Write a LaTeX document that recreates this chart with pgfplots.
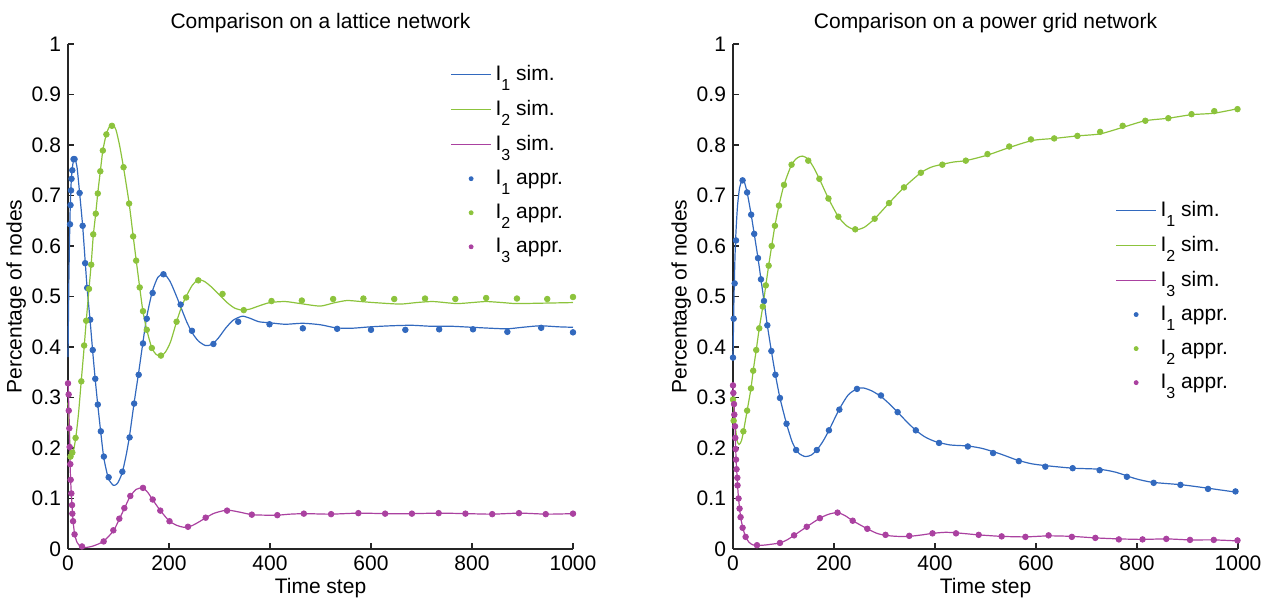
\documentclass[border=0pt]{standalone}
\usepackage{fontspec}
\setmainfont{Liberation Sans}
\usepackage{pgfplots}
\pgfplotsset{compat=1.18}

\definecolor{cI}{RGB}{50,105,190}
\definecolor{cII}{RGB}{140,195,60}
\definecolor{cIII}{RGB}{170,65,160}

\newcommand{\Is}[1]{I\raisebox{-5pt}{\footnotesize #1}}

\pgfplotsset{
  panel/.style={
    scale only axis, width=252.5pt, height=252.5pt,
    xmin=0, xmax=1000, ymin=0, ymax=1,
    xtick={0,200,400,600,800,1000},
    ytick={0,0.1,0.2,0.3,0.4,0.5,0.6,0.7,0.8,0.9,1},
    axis x line=bottom, axis y line=left,
    axis line style={-, black!85, line width=0.6pt},
    tick align=inside, major tick length=3pt,
    tick style={black!85, line width=0.6pt},
    /pgf/number format/assume math mode=true,
    /pgf/number format/1000 sep={},
    tick label style={font=\fontsize{10.5}{12}\selectfont},
    label style={font=\fontsize{10.5}{12}\selectfont},
    title style={font=\fontsize{10.5}{12}\selectfont, yshift=-4pt},
    xlabel={Time step}, ylabel={Percentage of nodes},
    xlabel style={yshift=3pt}, ylabel style={yshift=-4pt},
    legend cell align=left,
    legend style={draw=none, fill=none, font=\fontsize{10.5}{12}\selectfont, row sep=4.3pt},
    clip=false,
  },
  sim/.style={line width=0.6pt, smooth, tension=0.4, no marks,
    legend image code/.code={\draw[##1] plot coordinates {(0cm,0cm) (0.7cm,0cm)};}},
  appr/.style={only marks, mark=*, mark size=1.4pt,
    legend image code/.code={\draw[##1, mark size=1pt] plot coordinates {(0.35cm,0cm)};}},
}

\begin{document}
\begin{tikzpicture}
% ---------------- lattice ----------------
\begin{axis}[panel, name=lat, title={Comparison on a lattice network},
  legend style={at={(0.745,0.974)}, anchor=north west}]
\addplot[sim, cI] coordinates {(0,0.38) (2,0.55) (4,0.66) (6,0.72) (8,0.75) (11,0.77) (14,0.772) (18,0.755) (23,0.705) (29,0.64) (34,0.57) (38,0.515) (44,0.45) (49,0.39) (54,0.335) (59,0.285) (65,0.23) (71,0.18) (80,0.14) (90,0.126) (98,0.13) (107,0.15) (115,0.185) (122,0.225) (131,0.29) (140,0.35) (148.5,0.41) (156,0.46) (167,0.51) (178,0.538) (190,0.545) (202,0.53) (213,0.505) (223,0.48) (235,0.45) (246,0.428) (258,0.412) (272,0.403) (285,0.405) (298,0.418) (312,0.437) (327,0.453) (345,0.461) (360,0.457) (378,0.450) (399,0.448) (430,0.445) (465,0.447) (500,0.444) (530,0.438) (560,0.437) (600,0.440) (640,0.442) (680,0.443) (720,0.441) (760,0.441) (800,0.439) (840,0.437) (870,0.436) (900,0.439) (935,0.442) (970,0.440) (1000,0.439)};
\addlegendentry{\Is{1} sim.}
\addplot[sim, cII] coordinates {(0,0.29) (3,0.22) (6,0.185) (9,0.185) (12,0.2) (16,0.225) (21,0.27) (26,0.33) (32,0.40) (36,0.45) (41.6,0.515) (46,0.565) (50,0.62) (55,0.665) (59,0.705) (64,0.748) (69,0.789) (76,0.822) (83,0.838) (89,0.84) (95,0.83) (102,0.80) (110,0.755) (121,0.685) (129,0.62) (135,0.572) (142,0.518) (148.5,0.47) (156,0.434) (166,0.398) (175,0.385) (184,0.382) (193,0.39) (203,0.41) (215,0.45) (225,0.48) (234,0.50) (246,0.522) (258,0.533) (270,0.53) (285,0.518) (300,0.503) (315,0.488) (330,0.477) (345,0.473) (360,0.475) (380,0.482) (400,0.488) (430,0.49) (460,0.486) (499,0.481) (525,0.487) (552,0.492) (580,0.490) (605,0.488) (657,0.485) (690,0.488) (723,0.490) (769,0.486) (800,0.488) (828,0.490) (860,0.488) (888,0.486) (950,0.487) (1000,0.488)};
\addlegendentry{\Is{2} sim.}
\addplot[sim, cIII] coordinates {(0,0.33) (2,0.27) (4,0.17) (6,0.12) (8,0.087) (10,0.057) (13,0.03) (18,0.013) (25,0.005) (35,0.003) (50,0.006) (70,0.015) (90,0.036) (102,0.06) (112,0.081) (123,0.104) (135,0.118) (148,0.121) (158,0.112) (168,0.097) (183,0.076) (200,0.056) (215,0.047) (230,0.043) (245,0.046) (260,0.054) (273,0.062) (290,0.071) (315,0.077) (340,0.073) (364,0.068) (390,0.067) (415,0.067) (440,0.069) (470,0.070) (520,0.069) (575,0.071) (630,0.070) (680,0.070) (735,0.071) (790,0.070) (840,0.069) (895,0.071) (948,0.069) (1000,0.070)};
\addlegendentry{\Is{3} sim.}
\addplot[appr, cI] coordinates {(4,0.643) (5,0.681) (6,0.710) (7,0.733) (8.5,0.750) (11,0.772) (13,0.772) (23,0.705) (29,0.640) (34,0.566) (38,0.517) (44,0.454) (49,0.394) (54,0.337) (59,0.286) (65,0.233) (71,0.183) (80.5,0.142) (107.6,0.153) (122,0.221) (131,0.288) (140,0.345) (148.5,0.407) (156,0.456) (167.6,0.507) (189,0.544) (223,0.484) (245.5,0.432) (288,0.406) (337,0.450) (399,0.445) (465,0.437) (533,0.436) (600,0.434) (668,0.434) (735,0.435) (802,0.435) (870,0.430) (937,0.438) (1000,0.429)};
\addlegendentry{\Is{1} appr.}
\addplot[appr, cII] coordinates {(5,0.183) (8.6,0.191) (15,0.220) (26.4,0.332) (32,0.403) (36,0.452) (41.6,0.515) (46,0.563) (50,0.623) (55,0.664) (59,0.704) (64,0.748) (69,0.789) (76,0.821) (87,0.838) (110,0.756) (121,0.684) (129,0.619) (135,0.571) (142,0.518) (148.5,0.471) (156,0.434) (166,0.398) (184,0.383) (215,0.450) (234,0.498) (258,0.532) (306,0.505) (348,0.473) (403,0.491) (463,0.492) (525,0.495) (585,0.496) (646,0.495) (707,0.496) (767,0.495) (828,0.497) (889,0.496) (949,0.495) (1000,0.499)};
\addlegendentry{\Is{2} appr.}
\addplot[appr, cIII] coordinates {(0,0.328) (1.3,0.306) (1.5,0.274) (2.6,0.239) (3.3,0.202) (4.6,0.168) (5.3,0.137) (6.6,0.110) (8,0.087) (8.6,0.070) (10,0.055) (13,0.029) (27.7,0.005) (70.6,0.015) (89.8,0.037) (101.6,0.060) (111.6,0.081) (123.4,0.105) (148.5,0.121) (167.7,0.098) (182.8,0.076) (201,0.055) (237.6,0.044) (272.6,0.062) (315,0.076) (364,0.068) (414.5,0.067) (467,0.070) (521,0.069) (575,0.071) (628,0.070) (681,0.070) (734,0.071) (787,0.070) (840,0.069) (893,0.071) (946,0.069) (1000,0.070)};
\addlegendentry{\Is{3} appr.}
\end{axis}
% ---------------- power grid ----------------
\begin{axis}[panel, at={(lat.south east)}, anchor=south west, xshift=80pt,
  title={Comparison on a power grid network},
  legend style={at={(0.745,0.705)}, anchor=north west}]
\addplot[sim, cI] coordinates {(0,0.38) (2,0.5) (4,0.58) (6,0.63) (9,0.68) (13,0.715) (18,0.73) (22,0.728) (28,0.706) (36,0.662) (42,0.624) (49.5,0.576) (55.4,0.534) (61.4,0.491) (68,0.443) (76,0.392) (84,0.345) (93,0.299) (106,0.248) (118,0.21) (130,0.19) (143,0.183) (155,0.186) (166,0.196) (178,0.213) (190,0.235) (210,0.276) (228,0.305) (245,0.317) (258,0.319) (275,0.313) (293,0.302) (310,0.287) (326,0.271) (345,0.251) (362,0.235) (380,0.222) (400,0.213) (430,0.206) (465,0.204) (494,0.199) (530,0.188) (560,0.177) (590,0.169) (620,0.165) (673,0.160) (725,0.158) (758,0.152) (798,0.139) (831,0.132) (890,0.127) (943,0.120) (1000,0.112)};
\addlegendentry{\Is{1} sim.}
\addplot[sim, cII] coordinates {(0,0.30) (4,0.25) (8,0.215) (12,0.207) (17,0.215) (22,0.24) (28,0.274) (35.6,0.318) (40,0.353) (46,0.394) (52,0.437) (59,0.480) (65,0.522) (70.6,0.561) (76.6,0.600) (83,0.640) (91,0.680) (101,0.721) (116,0.761) (128,0.775) (138,0.778) (149,0.772) (160,0.755) (171,0.733) (189,0.694) (208.6,0.658) (225,0.640) (242,0.632) (260,0.637) (280.5,0.654) (309,0.685) (338.6,0.716) (372,0.745) (395,0.757) (435,0.766) (461,0.769) (504,0.780) (547,0.795) (593,0.809) (636,0.813) (682,0.818) (727,0.822) (772,0.835) (816,0.848) (862,0.853) (908,0.860) (953,0.863) (1000,0.872)};
\addlegendentry{\Is{2} sim.}
\addplot[sim, cIII] coordinates {(0,0.325) (2,0.29) (4,0.243) (6,0.18) (8,0.145) (10,0.112) (13,0.08) (16,0.058) (20,0.04) (25,0.024) (32,0.013) (40,0.008) (50,0.007) (65,0.008) (80,0.010) (93,0.012) (107,0.018) (121,0.027) (146,0.044) (172,0.061) (190,0.069) (207,0.072) (222,0.066) (237,0.056) (266,0.040) (285,0.031) (302,0.027) (325,0.025) (349,0.025) (375,0.028) (395,0.031) (420,0.033) (442,0.032) (486,0.028) (532,0.025) (579,0.024) (625,0.026) (671,0.025) (717,0.022) (764,0.020) (811,0.019) (858,0.020) (905,0.018) (952,0.018) (1000,0.016)};
\addlegendentry{\Is{3} sim.}
\addplot[appr, cI] coordinates {(0,0.379) (1.3,0.456) (3.3,0.526) (6,0.611) (19,0.730) (28,0.706) (36,0.662) (42,0.624) (49.5,0.576) (55.4,0.534) (61.4,0.491) (68,0.443) (76,0.392) (84,0.345) (93,0.299) (106,0.248) (125,0.196) (166,0.196) (190,0.235) (210.6,0.276) (245.5,0.317) (293,0.304) (326,0.271) (362,0.235) (408,0.210) (465,0.203) (515,0.190) (566,0.174) (618.5,0.163) (672.6,0.160) (726,0.156) (780,0.143) (833,0.131) (886,0.127) (940.6,0.119) (995,0.114)};
\addlegendentry{\Is{1} appr.}
\addplot[appr, cII] coordinates {(0,0.296) (1.3,0.254) (20.5,0.233) (28,0.274) (35.6,0.318) (40,0.353) (46,0.394) (52,0.437) (59,0.480) (65,0.522) (70.6,0.561) (76.6,0.600) (83,0.640) (91,0.680) (101,0.721) (116,0.761) (149,0.769) (171,0.733) (189,0.694) (208.6,0.658) (242,0.633) (280.5,0.654) (309,0.685) (338.6,0.716) (372,0.745) (414.5,0.761) (461,0.769) (504,0.782) (547,0.797) (590,0.811) (636,0.813) (682,0.818) (727,0.826) (771.6,0.838) (816.5,0.848) (862,0.853) (908,0.861) (953,0.867) (999,0.871)};
\addlegendentry{\Is{2} appr.}
\addplot[appr, cIII] coordinates {(0,0.324) (0.7,0.309) (2,0.287) (2.6,0.266) (4,0.243) (4.6,0.220) (5.3,0.198) (6,0.177) (7,0.158) (8.6,0.141) (9,0.126) (11,0.100) (13,0.080) (15,0.063) (19,0.042) (25,0.024) (47.5,0.0075) (93,0.012) (121,0.027) (146,0.044) (172,0.061) (207,0.072) (237,0.056) (266,0.040) (302,0.028) (349,0.026) (395,0.031) (441.6,0.031) (486.5,0.028) (532,0.025) (579,0.024) (625,0.027) (671,0.024) (717.5,0.022) (764,0.019) (811,0.019) (858,0.020) (905,0.018) (952,0.018) (999,0.017)};
\addlegendentry{\Is{3} appr.}
\end{axis}
\pgfresetboundingbox
\path[use as bounding box] (-34pt,-25pt) rectangle (598.5pt,274.5pt);
\end{tikzpicture}
\end{document}
